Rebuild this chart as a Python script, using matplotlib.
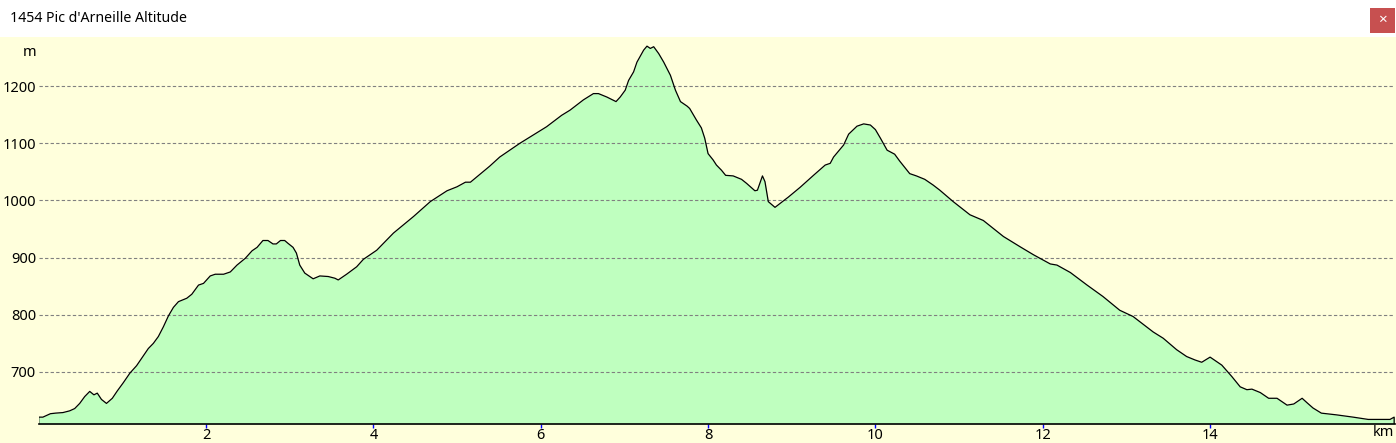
import numpy as np
import matplotlib
matplotlib.use("Agg")
import matplotlib.pyplot as plt
from matplotlib.patches import Rectangle

plt.rcParams['font.family'] = ['Noto Sans', 'DejaVu Sans']

# profile: distance (km) and altitude (m)
dist_km = [0.00, 0.05, 0.14, 0.20, 0.29, 0.37, 0.43, 0.49, 0.55, 0.61,
           0.66, 0.70, 0.75, 0.81, 0.88, 0.94, 1.01, 1.09, 1.17, 1.23,
           1.31, 1.37, 1.43, 1.49, 1.55, 1.61, 1.67, 1.77, 1.83, 1.91,
           1.97, 2.05, 2.11, 2.21, 2.29, 2.37, 2.47, 2.55, 2.61, 2.68,
           2.74, 2.80, 2.84, 2.89, 2.94, 2.98, 3.04, 3.08, 3.12, 3.18,
           3.28, 3.36, 3.46, 3.54, 3.58, 3.68, 3.80, 3.88, 4.04, 4.24,
           4.48, 4.68, 4.88, 5.00, 5.10, 5.16, 5.39, 5.51, 5.75, 6.07,
           6.25, 6.35, 6.51, 6.63, 6.69, 6.79, 6.90, 6.95, 7.01, 7.05,
           7.11, 7.15, 7.23, 7.27, 7.31, 7.35, 7.41, 7.47, 7.55, 7.61,
           7.67, 7.75, 7.78, 7.86, 7.92, 7.96, 8.00, 8.06, 8.10, 8.16,
           8.21, 8.30, 8.40, 8.46, 8.56, 8.59, 8.65, 8.68, 8.72, 8.80,
           8.96, 9.10, 9.26, 9.40, 9.46, 9.50, 9.62, 9.68, 9.78, 9.86,
           9.94, 10.00, 10.06, 10.14, 10.23, 10.29, 10.41, 10.49, 10.59, 10.69,
           10.77, 10.93, 11.13, 11.29, 11.53, 11.73, 11.89, 12.09, 12.17, 12.33,
           12.53, 12.72, 12.92, 13.08, 13.32, 13.44, 13.60, 13.72, 13.82, 13.90,
           14.00, 14.08, 14.14, 14.26, 14.36, 14.44, 14.50, 14.60, 14.70, 14.80,
           14.92, 15.00, 15.10, 15.16, 15.23, 15.33, 15.51, 15.71, 15.89, 16.15,
           16.20]
alt_m = [621, 621, 627, 628, 629, 632, 636, 645, 657, 666,
         660, 663, 652, 645, 654, 667, 681, 698, 711, 724,
         741, 750, 762, 779, 798, 813, 823, 829, 836, 852,
         855, 868, 871, 871, 875, 887, 899, 912, 918, 930,
         930, 924, 924, 930, 930, 925, 918, 908, 887, 873,
         863, 868, 867, 864, 861, 871, 884, 897, 913, 943,
         972, 998, 1017, 1024, 1032, 1032, 1060, 1076, 1100, 1129,
         1149, 1158, 1176, 1187, 1187, 1181, 1173, 1181, 1193, 1210,
         1225, 1242, 1263, 1270, 1266, 1269, 1257, 1242, 1219, 1193,
         1173, 1165, 1161, 1141, 1127, 1109, 1082, 1071, 1062, 1053,
         1044, 1043, 1037, 1030, 1017, 1018, 1043, 1033, 998, 988,
         1006, 1023, 1044, 1062, 1065, 1076, 1097, 1116, 1130, 1134,
         1132, 1124, 1109, 1088, 1081, 1069, 1047, 1043, 1037, 1027,
         1018, 998, 975, 965, 937, 919, 905, 889, 887, 874,
         852, 832, 808, 797, 770, 759, 739, 727, 721, 717,
         726, 718, 712, 692, 674, 669, 670, 664, 654, 654,
         642, 644, 654, 646, 637, 628, 625, 621, 617, 617,
         621]

x_ticks = [2, 4, 6, 8, 10, 12, 14]
y_ticks = [700, 800, 900, 1000, 1100, 1200]
title = "1454 Pic d'Arneille Altitude"

y_min, y_max = 609, 1286
x_max = 16.21

bg = '#FFFFDC'
fill_col = '#BFFFBF'

W, H = 1396, 443
fig = plt.figure(figsize=(W / 100, H / 100), dpi=100, facecolor='white')

# yellow panel below the white title strip
fig.patches.append(Rectangle((0, 0), 1, (H - 37) / H, transform=fig.transFigure,
                             facecolor=bg, edgecolor='none', zorder=-5))
# close button
fig.patches.append(Rectangle((1370 / W, 1 - 33 / H), 25 / W, 25 / H,
                             transform=fig.transFigure, facecolor='#C75050',
                             edgecolor='none', zorder=-4))
fig.text(1382.5 / W, 1 - 20.5 / H, '×', color='white', ha='center', va='center',
         fontsize=11, fontweight='bold')
fig.text(10 / W, 1 - 19 / H, title, ha='left', va='center', fontsize=10.2, color='black')

ax = fig.add_axes([38.7 / W, 19 / H, (1395 - 38.7) / W, 387 / H])
ax.set_facecolor(bg)

x = np.array(dist_km)
y = np.array(alt_m)
ax.fill_between(x, y_min, y, color=fill_col, linewidth=0, zorder=1)
ax.plot(np.r_[x[0], x, x[-1]], np.r_[y_min, y, y_min], color='black', lw=0.9, zorder=3)

ax.set_xlim(0, x_max)
ax.set_ylim(y_min, y_max)
ax.set_xticks(x_ticks)
ax.set_yticks(y_ticks)
ax.set_axisbelow(False)
ax.grid(axis='y', color='#808080', linestyle=(0, (3, 2)), linewidth=0.8, zorder=2)

for s in ['top', 'right', 'left']:
    ax.spines[s].set_visible(False)
ax.spines['bottom'].set_linewidth(1.2)
ax.spines['bottom'].set_zorder(4)

ax.tick_params(axis='x', length=3, width=1, color='blue', pad=0, labelsize=10.5)
ax.tick_params(axis='y', length=0, pad=2, labelsize=10.5)

fig.text(36 / W, 1 - 52 / H, 'm', ha='right', va='center', fontsize=10.5)
fig.text(1394 / W, 1 - 433 / H, 'km', ha='right', va='center', fontsize=10.5)

fig.savefig('out.png', dpi=100, facecolor='white')
